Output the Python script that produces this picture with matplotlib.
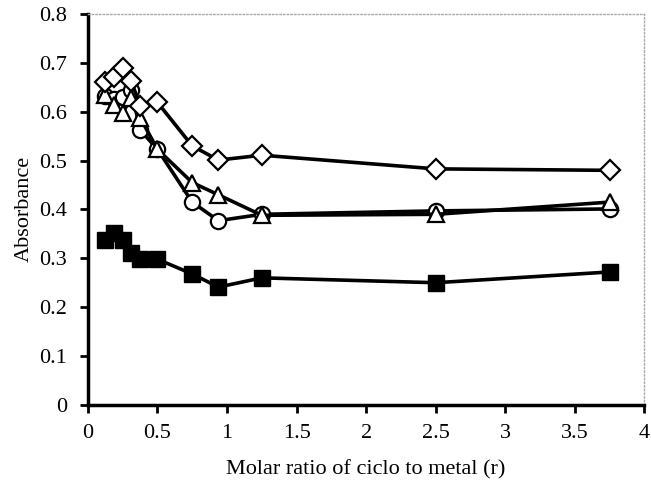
import matplotlib
matplotlib.use("Agg")
import matplotlib.pyplot as plt

plt.rcParams['font.family'] = ['Liberation Serif', 'DejaVu Serif']

r = [0.125, 0.1875, 0.25, 0.3125, 0.375, 0.5, 0.75, 0.9375, 1.25, 2.5, 3.75]
diamonds = [0.660, 0.671, 0.689, 0.662, 0.612, 0.619, 0.530, 0.501, 0.511, 0.483, 0.480]
circles = [0.632, 0.625, 0.630, 0.645, 0.563, 0.523, 0.415, 0.377, 0.390, 0.397, 0.401]
triangles = [0.634, 0.613, 0.598, 0.628, 0.588, 0.523, 0.455, 0.430, 0.388, 0.390, 0.415]
squares = [0.338, 0.352, 0.337, 0.311, 0.298, 0.298, 0.268, 0.241, 0.260, 0.250, 0.272]

fig = plt.figure(figsize=(6.51, 4.82), dpi=100)
ax = fig.add_axes([0.135, 0.16, 0.855, 0.811])

lw = 2.6
ax.plot(r, squares, color='black', lw=lw, marker='s', ms=11, mfc='black', mec='black', zorder=3)
ax.plot(r, circles, color='black', lw=lw, marker='o', ms=11, mfc='white', mec='black', mew=1.6, zorder=3)
ax.plot(r, triangles, color='black', lw=lw, marker='^', ms=12, mfc='white', mec='black', mew=1.6, zorder=4)
ax.plot(r, diamonds, color='black', lw=lw, marker='D', ms=10, mfc='white', mec='black', mew=1.6, zorder=5)

ax.set_xlim(0, 4)
ax.set_ylim(0, 0.8)
ax.set_xticks([0, 0.5, 1, 1.5, 2, 2.5, 3, 3.5, 4])
ax.set_xticklabels(['0', '0.5', '1', '1.5', '2', '2.5', '3', '3.5', '4'])
ax.set_yticks([0, 0.1, 0.2, 0.3, 0.4, 0.5, 0.6, 0.7, 0.8])
ax.set_yticklabels(['0', '0.1', '0.2', '0.3', '0.4', '0.5', '0.6', '0.7', '0.8'])
ax.tick_params(direction='out', length=6, width=2, labelsize=16)
ax.tick_params(axis='y', pad=9)
ax.tick_params(axis='x', pad=8)

for s in ['left', 'bottom']:
    ax.spines[s].set_linewidth(2.5)
for s in ['top', 'right']:
    ax.spines[s].set_color('#aaaaaa')
    ax.spines[s].set_linewidth(1)
    ax.spines[s].set_linestyle(':')

ax.set_xlabel('Molar ratio of ciclo to metal (r)', fontsize=16, labelpad=12)
ax.set_ylabel('Absorbance', fontsize=16, labelpad=4)

fig.savefig('out.png', dpi=100)
